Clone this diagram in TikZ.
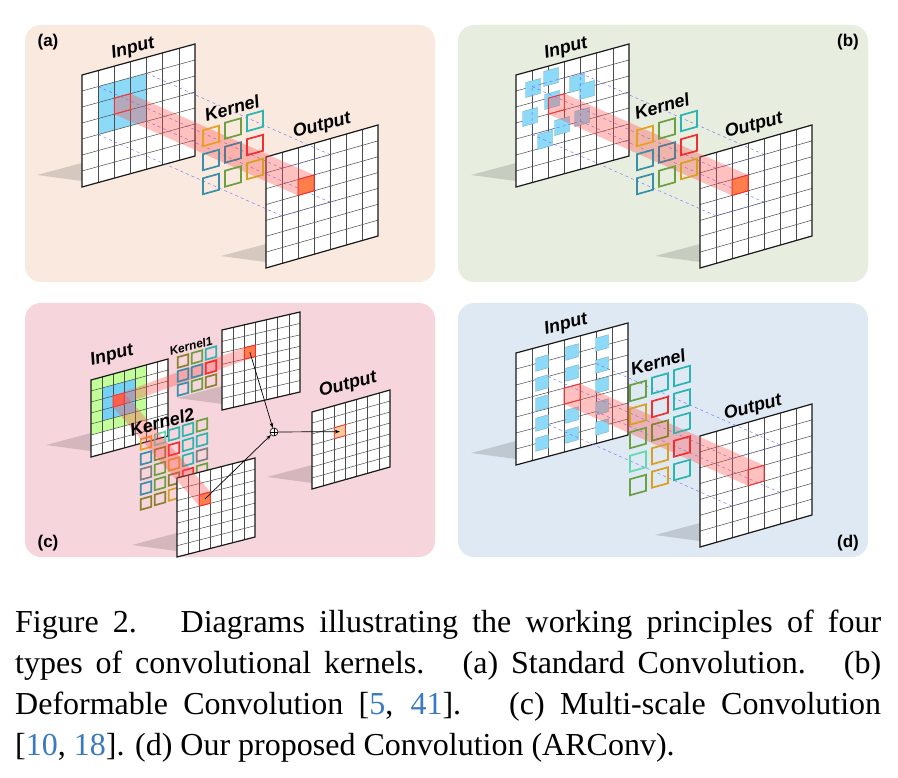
\documentclass[tikz,border=0pt]{standalone}
\usepackage{fontspec}
\setmainfont{Liberation Serif}
\newfontfamily\lab{Liberation Sans}
\usetikzlibrary{calc,arrows.meta}
\definecolor{kor}{HTML}{E8A020}
\definecolor{kgr}{HTML}{6AA040}
\definecolor{ktl}{HTML}{2AB5B0}
\definecolor{ktb}{HTML}{3A8FA8}
\definecolor{kgb}{HTML}{5A7890}
\definecolor{krd}{HTML}{F03030}
\definecolor{kgd}{HTML}{D8A020}
\definecolor{kol}{HTML}{8A8030}
\definecolor{klt}{HTML}{60D8B0}
\definecolor{kgy}{HTML}{808080}
\definecolor{bga}{HTML}{F9E9DF}
\definecolor{bgb}{HTML}{E7EEDF}
\definecolor{bgc}{HTML}{F6D6DC}
\definecolor{bgd}{HTML}{DFE9F3}
\definecolor{cite}{HTML}{3A7AC0}
\newcommand\setpl[6]{\def\px{#1}\def\py{#2}\def\pw{#3}\def\ph{#4}\def\ps{#5}\def\pn{#6}}
\newcommand\cpt[3]{\coordinate (#1) at ({\px+\pw*(#2)/\pn},{\py-\ps*(#2)/\pn+\ph*(#3)/\pn});}
\newcommand\plane{\cpt{p1}{0}{0}\cpt{p2}{\pn}{0}\cpt{p3}{\pn}{\pn}\cpt{p4}{0}{\pn}%
 \fill[shad] ($(p4)+(0,-24)$) -- ($(p4)+(0,-6)$) -- ($(p4)+(-45,-12)$) -- cycle;
 \fill[white] (p1)--(p2)--(p3)--(p4)--cycle;}
\newcommand\grid{\pgfmathtruncatemacro\nm{\pn-1}%
 \foreach \k in {1,...,\nm}{\cpt{ga}{\k}{0}\cpt{gb}{\k}{\pn}\draw[gridl](ga)--(gb);
  \cpt{ga}{0}{\k}\cpt{gb}{\pn}{\k}\draw[gridl](ga)--(gb);}
 \draw[outl] (p1)--(p2)--(p3)--(p4)--cycle;}
\newcommand\region[5]{\cpt{r1}{#1}{#2}\cpt{r2}{#3}{#2}\cpt{r3}{#3}{#4}\cpt{r4}{#1}{#4}%
 \path[#5] (r1)--(r2)--(r3)--(r4)--cycle;}
\newcommand\ks[4]{\draw[line width=1.7pt,#3] ({#1-#4},{#2-#4+0.28*#4}) -- ({#1+#4},{#2-#4-0.28*#4}) -- ({#1+#4},{#2+#4-0.28*#4}) -- ({#1-#4},{#2+#4+0.28*#4}) -- cycle;}
\newcommand\bs[3]{\filldraw[fill=cyan!45,draw=ktb!70,line width=0.4pt] ({#1-#3},{#2-#3+0.28*#3}) -- ({#1+#3},{#2-#3-0.28*#3}) -- ({#1+#3},{#2+#3-0.28*#3}) -- ({#1-#3},{#2+#3+0.28*#3}) -- cycle;}
\tikzset{
 shad/.style={fill=black,opacity=0.14},
 gridl/.style={draw=black!70,line width=0.5pt},
 outl/.style={draw=black!90,line width=1.2pt},
 beam/.style={fill=red!70,opacity=0.35},
 dsh/.style={draw=blue!60,dashed,line width=0.4pt},
 rcell/.style={fill=red!45!orange!70,draw=krd,line width=1pt},
 rbox/.style={draw=krd,line width=1pt},
 lbl/.style={font=\lab\bfseries\itshape\fontsize{18}{18}\selectfont,rotate=15,inner sep=1pt},
 tag/.style={font=\lab\bfseries\fontsize{17}{17}\selectfont},
 bg/.style={rounded corners=16pt},
 captxt/.style={anchor=base west,inner sep=0pt,font=\fontsize{32}{36}\selectfont}
}
\begin{document}
\begin{tikzpicture}[x=1pt,y=-1pt]
\useasboundingbox (0,0) rectangle (898,778);
\fill[white] (0,0) rectangle (898,778);
\fill[bga,bg] (25,25) rectangle (435,282);
\fill[bgb,bg] (458,25) rectangle (868,282);
\fill[bgc,bg] (25,303) rectangle (435,557);
\fill[bgd,bg] (458,303) rectangle (868,557);

% ===== (a)
\setpl{82}{75}{113}{112}{31}{7}\plane
\region{1}{1}{4}{4}{fill=cyan!45}\grid\region{2}{2}{3}{3}{rbox}
\cpt{ai1}{2}{2}\cpt{ai2}{3}{2}\cpt{ai3}{3}{3}\cpt{ai4}{2}{3}
\cpt{ad1}{1}{1}\cpt{ad2}{4}{1}\cpt{ad3}{4}{4}\cpt{ad4}{1}{4}
\setpl{266}{157}{112}{111}{32}{7}\plane\grid
\cpt{ao1}{2}{2}\cpt{ao2}{3}{2}\cpt{ao3}{3}{3}\cpt{ao4}{2}{3}
\cpt{aq1}{1}{1}\cpt{aq2}{4}{1}\cpt{aq3}{4}{4}\cpt{aq4}{1}{4}
\draw[dsh] (aq1)--(aq2)--(aq3)--(aq4)--cycle;
\foreach \a in {1,...,4}{\draw[dsh] (ad\a)--(aq\a);}
\fill[beam] (ai1)--(ai2)--(ao2)--(ao3)--(ao4)--(ai4)--cycle;
\region{2}{2}{3}{3}{rcell}
\foreach \c/\r/\col in {0/0/kor,1/0/kgr,2/0/ktl,0/1/ktb,1/1/kgb,2/1/krd,0/2/ktb,1/2/kgr,2/2/kgd}
 {\ks{211+22*\c}{136+24*\r-7.5*\c}{\col}{8}}
\node[lbl] (ta1) at (133,49) {Input};
\node[lbl] (ta2) at (232,108) {Kernel};
\node[lbl] (ta3) at (322,126) {Output};
\node[tag] (ta) at (48,42) {(a)};

% ===== (b)
\setpl{516}{75}{113}{112}{31}{7}\plane\grid
\cpt{bi1}{2}{2}\cpt{bi2}{3}{2}\cpt{bi3}{3}{3}\cpt{bi4}{2}{3}
\cpt{bd1}{1}{1}\cpt{bd2}{4}{1}\cpt{bd3}{4}{4}\cpt{bd4}{1}{4}
\foreach \x/\y in {533/88,551/77,552/100,577/83,587/90,530/117,562/126,545/140,582/117}{\bs{\x}{\y}{7.5}}
\region{2}{2}{3}{3}{rbox}
\setpl{700}{157}{112}{111}{32}{7}\plane\grid
\cpt{bo1}{2}{2}\cpt{bo2}{3}{2}\cpt{bo3}{3}{3}\cpt{bo4}{2}{3}
\cpt{bq1}{1}{1}\cpt{bq2}{4}{1}\cpt{bq3}{4}{4}\cpt{bq4}{1}{4}
\draw[dsh] (bq1)--(bq2)--(bq3)--(bq4)--cycle;
\draw[dsh] (bd1)--(bd2)--(bd3)--(bd4)--cycle;
\foreach \a in {1,...,4}{\draw[dsh] (bd\a)--(bq\a);}
\fill[beam] (bi1)--(bi2)--(bo2)--(bo3)--(bo4)--(bi4)--cycle;
\region{2}{2}{3}{3}{rcell}
\foreach \c/\r/\col in {0/0/kor,1/0/kgr,2/0/ktl,0/1/ktb,1/1/kgb,2/1/krd,0/2/ktb,1/2/kgr,2/2/kgd}
 {\ks{645+22*\c}{136+24*\r-7.5*\c}{\col}{8}}
\node[lbl] (tb1) at (566,49) {Input};
\node[lbl] (tb2) at (662,106) {Kernel};
\node[lbl] (tb3) at (754,126) {Output};
\node[tag] (tb) at (848,42) {(b)};

% ===== (c)
\setpl{91}{380}{77}{77}{21}{7}\plane
\region{0}{0}{5}{5}{fill=green!45!lime!40}\region{1}{1}{4}{4}{fill=cyan!55}\grid\region{2}{2}{3}{3}{rcell}
\cpt{ci1}{2}{2}\cpt{ci2}{3}{2}\cpt{ci3}{3}{3}\cpt{ci4}{2}{3}
\setpl{222}{330}{78}{80}{18}{7}\plane\grid
\cpt{ct1}{2}{2}\cpt{ct2}{3}{2}\cpt{ct3}{3}{3}\cpt{ct4}{2}{3}\cpt{ctc}{2.5}{2.5}
\fill[beam] (ci4)--(ci1)--(ct1)--(ct2)--(ct3)--(ci3)--cycle;
\region{2}{2}{3}{3}{rcell}
\foreach \c/\r/\col in {0/0/kol,1/0/kgr,2/0/ktl,0/1/ktb,1/1/ktb,2/1/krd,0/2/ktb,1/2/kgr,2/2/kol}
 {\ks{183+14*\c}{361+14*\r-4*\c}{\col}{5.3}}
\foreach \c/\r/\col in {0/0/kor,1/0/klt,2/0/ktl,3/0/ktl,4/0/kgr,
 0/1/ktb,1/1/kol,2/1/krd,3/1/ktl,4/1/ktl,
 0/2/kgy,1/2/kgr,2/2/kor,3/2/ktl,4/2/kgy,
 0/3/ktb,1/3/kgr,2/3/kol,3/3/krd,4/3/kgr,
 0/4/kol,1/4/kol,2/4/kgd}
 {\ks{146+14*\c}{443+15*\r-4.5*\c}{\col}{5.3}}
\setpl{177}{478}{78}{79}{20}{7}\plane\grid
\cpt{cb1}{2}{2}\cpt{cb2}{3}{2}\cpt{cb3}{3}{3}\cpt{cb4}{2}{3}\cpt{cbc}{2.5}{2.5}
\fill[beam] (ci1)--(ci2)--(cb2)--(cb3)--(cb4)--(ci4)--cycle;
\region{2}{2}{3}{3}{rcell}
\setpl{312}{412}{78}{77}{22}{7}\plane\grid
\region{2}{2}{3}{3}{fill=orange!40,draw=krd,line width=0.8pt}\cpt{coc}{2.5}{2.5}
\node[draw,circle,fill=white,inner sep=0pt,minimum size=8pt,line width=0.6pt] (plus) at (274,432) {};
\draw[line width=0.5pt] (plus.north)--(plus.south) (plus.west)--(plus.east);
\draw[-{Stealth[length=5pt]},line width=0.7pt] (ctc)--(plus);
\draw[-{Stealth[length=5pt]},line width=0.7pt] (cbc)--(plus);
\draw[-{Stealth[length=5pt]},line width=0.7pt] (plus)--(coc);
\node[lbl] (tc1) at (112,356) {Input};
\node[lbl,font=\lab\bfseries\itshape\fontsize{12}{12}\selectfont] (tc2) at (191,346) {Kernel1};
\node[lbl] (tc3) at (162,422) {Kernel2};
\node[lbl] (tc4) at (348,385) {Output};
\node[tag] (tc) at (48,543) {(c)};

% ===== (d)
\setpl{516}{353}{112}{112}{30}{7}\plane\grid
\foreach \x/\y in {542/363,542/383,542/403,542/423,542/443,572/352,572/373,572/415,572/435,602/343,602/365,602/385,602/407,602/427}{\bs{\x}{\y}{6.5}}
\region{3}{3}{4}{4}{rbox}
\cpt{di1}{3}{3}\cpt{di2}{4}{3}\cpt{di3}{4}{4}\cpt{di4}{3}{4}
\cpt{dd1}{2}{2}\cpt{dd2}{5}{2}\cpt{dd3}{5}{5}\cpt{dd4}{2}{5}
\setpl{700}{436}{112}{111}{32}{7}\plane\grid
\cpt{do1}{3}{3}\cpt{do2}{4}{3}\cpt{do3}{4}{4}\cpt{do4}{3}{4}
\cpt{dq1}{2}{2}\cpt{dq2}{5}{2}\cpt{dq3}{5}{5}\cpt{dq4}{2}{5}
\draw[dsh] (dq1)--(dq2)--(dq3)--(dq4)--cycle;
\foreach \a in {1,...,4}{\draw[dsh] (dd\a)--(dq\a);}
\fill[beam] (di1)--(di2)--(do2)--(do3)--(do4)--(di4)--cycle;
\region{3}{3}{4}{4}{rbox}
\foreach \c/\r/\col in {0/0/kgr,1/0/ktl,2/0/ktl,0/1/kgd,1/1/krd,2/1/ktl,0/2/kgr,1/2/kol,2/2/ktl,0/3/klt,1/3/kgd,2/3/krd,0/4/kgr,1/4/kgd,2/4/ktl}
 {\ks{638+22*\c}{391+23.5*\r-7.5*\c}{\col}{8}}
\node[lbl] (td1) at (566,325) {Input};
\node[lbl] (td2) at (658,362) {Kernel};
\node[lbl] (td3) at (753,408) {Output};
\node[tag] (td) at (848,543) {(d)};

% ===== caption
\node[captxt] (c1) at (15,632) {\makebox[866pt][s]{Figure 2. \ Diagrams illustrating the working principles of four}};
\node[captxt] (c2) at (15,673) {\makebox[866pt][s]{types of convolutional kernels. \ (a) Standard Convolution. \ (b)}};
\node[captxt] (c3) at (15,714) {\makebox[866pt][s]{Deformable Convolution [\textcolor{cite}{5}, \textcolor{cite}{41}]. \ (c) Multi-scale Convolution}};
\node[captxt] (c4) at (15,755) {[\textcolor{cite}{10}, \textcolor{cite}{18}]. (d) Our proposed Convolution (ARConv).};
\end{tikzpicture}
\end{document}
